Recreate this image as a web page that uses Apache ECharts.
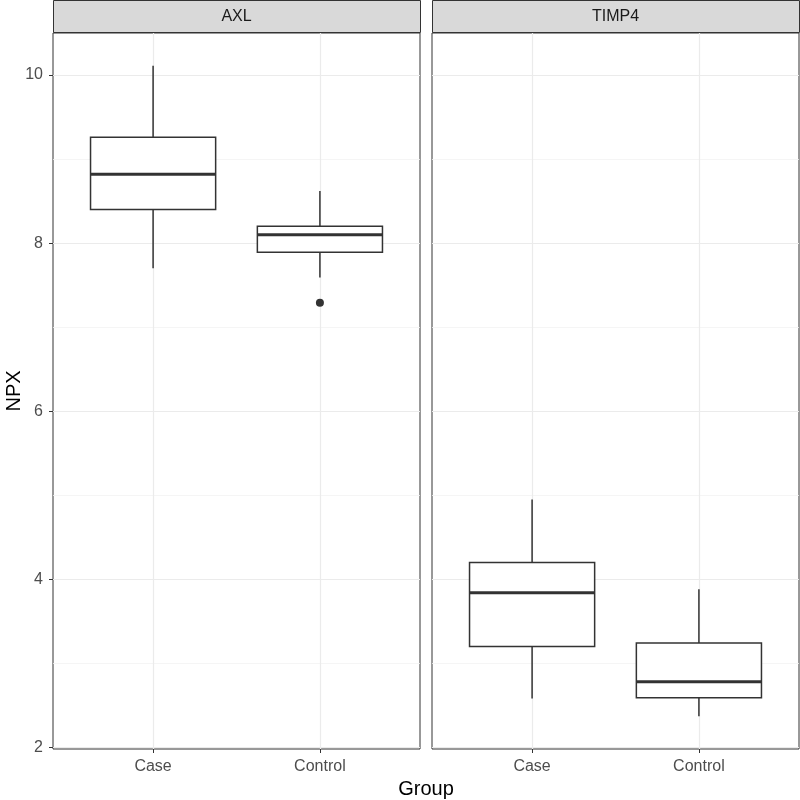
<!DOCTYPE html>
<html>
<head>
<meta charset="utf-8">
<script src="https://cdn.jsdelivr.net/npm/echarts@6/dist/echarts.min.js"></script>
<style>
  html, body { margin: 0; padding: 0; background: #fff; }
  #main { width: 800px; height: 800px; }
</style>
</head>
<body>
<div id="main"></div>
<script>
// facet panels and x groups
const panels = ["AXL", "TIMP4"];
const groups = ["Case", "Control"];

// box stats per group: [lower whisker, Q1, median, Q3, upper whisker]
const axlBox = [
    [7.70, 8.40, 8.82, 9.26, 10.11],
    [7.59, 7.89, 8.10, 8.20, 8.62],
];
const timp4Box = [
    [2.58, 3.20, 3.84, 4.20, 4.95],
    [2.37, 2.59, 2.78, 3.24, 3.88],
];
// outliers: [group, value]
const axlOutliers = [["Control", 7.29]];
const timp4Outliers = [];

const yTicks = [2, 4, 6, 8, 10];
const yMinorTicks = [3, 5, 7, 9];
const xTicks = [1, 2];

const FONT = "Liberation Sans";
const GRID_TOP = 33;
const GRID_H = 716;
const gridLefts = [53, 432];
const GRID_W = 367;

const toBoxData = (stats) => stats.map((s, i) => [i + 1].concat(s));
const toOutlierData = (pts) => pts.map((p) => [groups.indexOf(p[0]) + 1, p[1]]);

const renderBox = (params, api) => {
    const x = api.value(0);
    const half = 0.375;
    const lo = api.coord([x, api.value(1)]);
    const q1 = api.coord([x, api.value(2)]);
    const med = api.coord([x, api.value(3)]);
    const q3 = api.coord([x, api.value(4)]);
    const hi = api.coord([x, api.value(5)]);
    const left = api.coord([x - half, api.value(3)])[0];
    const right = api.coord([x + half, api.value(3)])[0];
    const stroke = { stroke: "#333333", lineWidth: 1.5, fill: null };
    return {
        type: "group",
        children: [
            { type: "line", shape: { x1: hi[0], y1: hi[1], x2: q3[0], y2: q3[1] }, style: stroke },
            { type: "line", shape: { x1: q1[0], y1: q1[1], x2: lo[0], y2: lo[1] }, style: stroke },
            {
                type: "rect",
                shape: { x: left, y: q3[1], width: right - left, height: q1[1] - q3[1] },
                style: { stroke: "#333333", lineWidth: 1.5, fill: "#ffffff" },
            },
            {
                type: "line",
                shape: { x1: left, y1: med[1], x2: right, y2: med[1] },
                style: { stroke: "#333333", lineWidth: 3 },
            },
        ],
    };
};

const chart = echarts.init(document.getElementById("main"));

const grids = gridLefts.map((l) => ({
    left: l,
    top: GRID_TOP,
    width: GRID_W,
    height: GRID_H,
    show: true,
    backgroundColor: "#ffffff",
    borderColor: "#333333",
    borderWidth: 1,
}));

const xAxes = panels.map((p, i) => ({
    type: "value",
    gridIndex: i,
    min: 0.4,
    max: 2.6,
    axisLine: { show: false },
    axisTick: {
        show: true,
        customValues: xTicks,
        length: 4,
        lineStyle: { color: "#333333", width: 1 },
    },
    axisLabel: {
        customValues: xTicks,
        formatter: (v) => groups[Math.round(v) - 1],
        color: "#4D4D4D",
        fontFamily: FONT,
        fontSize: 16,
        margin: 10,
    },
    splitLine: { show: true, lineStyle: { color: "#EBEBEB", width: 1.2 } },
}));

const yAxes = [];
panels.forEach((p, i) => {
    yAxes.push({
        type: "value",
        gridIndex: i,
        min: 1.98,
        max: 10.5,
        axisLine: { show: false },
        axisTick: {
            show: i === 0,
            customValues: yTicks,
            length: 4,
            lineStyle: { color: "#333333", width: 1 },
        },
        axisLabel: {
            show: i === 0,
            customValues: yTicks,
            color: "#4D4D4D",
            fontFamily: FONT,
            fontSize: 16,
            margin: 10,
        },
        splitLine: { show: true, lineStyle: { color: "#EBEBEB", width: 1.2 } },
    });
    yAxes.push({
        type: "value",
        gridIndex: i,
        position: "left",
        min: 1.98,
        max: 10.5,
        axisLine: { show: false },
        axisTick: { show: false, customValues: yMinorTicks },
        axisLabel: { show: false },
        splitLine: { show: true, lineStyle: { color: "#F2F2F2", width: 0.8 } },
    });
});

const graphics = [];
panels.forEach((p, i) => {
    graphics.push({
        type: "rect",
        shape: { x: gridLefts[i] + 0.5, y: 0.5, width: GRID_W, height: GRID_TOP - 1 },
        style: { fill: "#D9D9D9", stroke: "#333333", lineWidth: 1 },
    });
    graphics.push({
        type: "text",
        x: gridLefts[i] + GRID_W / 2,
        y: GRID_TOP / 2,
        style: {
            text: p,
            fill: "#1A1A1A",
            font: "16px " + FONT,
            align: "center",
            verticalAlign: "middle",
        },
    });
});
graphics.push({
    type: "text",
    x: 426,
    y: 789,
    style: { text: "Group", fill: "#000000", font: "20px " + FONT, align: "center", verticalAlign: "middle" },
});
graphics.push({
    type: "text",
    x: 14,
    y: 391,
    rotation: Math.PI / 2,
    style: { text: "NPX", fill: "#000000", font: "20px " + FONT, align: "center", verticalAlign: "middle" },
});

const option = {
    animation: false,
    backgroundColor: "#ffffff",
    grid: grids,
    xAxis: xAxes,
    yAxis: yAxes,
    graphic: graphics,
    series: [
        {
            type: "custom",
            xAxisIndex: 0,
            yAxisIndex: 0,
            data: toBoxData(axlBox),
            renderItem: renderBox,
            encode: { x: 0, y: [1, 2, 3, 4, 5] },
            z: 3,
        },
        {
            type: "custom",
            xAxisIndex: 1,
            yAxisIndex: 2,
            data: toBoxData(timp4Box),
            renderItem: renderBox,
            encode: { x: 0, y: [1, 2, 3, 4, 5] },
            z: 3,
        },
        {
            type: "scatter",
            xAxisIndex: 0,
            yAxisIndex: 0,
            data: toOutlierData(axlOutliers),
            symbolSize: 8,
            itemStyle: { color: "#333333", opacity: 1 },
            z: 4,
        },
        {
            type: "scatter",
            xAxisIndex: 1,
            yAxisIndex: 2,
            data: toOutlierData(timp4Outliers),
            symbolSize: 8,
            itemStyle: { color: "#333333", opacity: 1 },
            z: 4,
        },
    ],
};

chart.setOption(option);
</script>
</body>
</html>
